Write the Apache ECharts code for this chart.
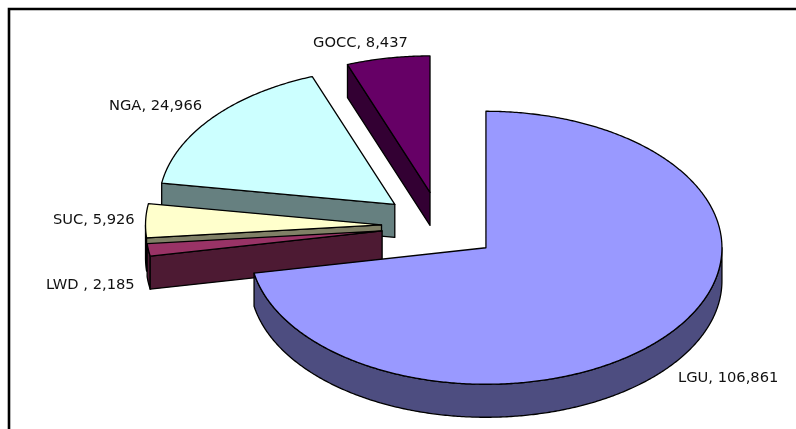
<!DOCTYPE html>
<html>
<head>
<meta charset="utf-8">
<style>html,body{margin:0;padding:0;background:#fff}#c{width:796px;height:429px}</style>
<script src="https://cdn.jsdelivr.net/npm/echarts@6/dist/echarts.min.js"></script>
</head>
<body>
<div id="c"></div>
<script>
var categories = ['LGU', 'LWD ', 'SUC', 'NGA', 'GOCC'];
var values = [106861, 2185, 5926, 24966, 8437];
var topColors = ['#9999FF', '#993366', '#FFFFCC', '#CCFFFF', '#660066'];
var sideColors = ['#4D4D80', '#4D1A33', '#808066', '#668080', '#330033'];
var labelAnchors = [[678, 378], [46, 285.5], [53, 220.5], [109, 106.5], [313, 43]];

var PIE = { cx: 440.5, cy: 226, rx: 236, ry: 136.5, depth: 33, explode: 0.25 };
var total = values.reduce(function (a, b) { return a + b; }, 0);
var starts = [];
values.reduce(function (acc, v, i) { starts[i] = acc; return acc + v; }, 0);

function pt(c, deg, dy) {
  var t = deg * Math.PI / 180;
  return [c[0] + PIE.rx * Math.sin(t), c[1] - PIE.ry * Math.cos(t) + (dy || 0)];
}
function arcPts(c, a0, a1, dy) {
  var out = [], n = Math.max(2, Math.ceil(Math.abs(a1 - a0) * 2));
  for (var i = 0; i <= n; i++) out.push(pt(c, a0 + (a1 - a0) * i / n, dy));
  return out;
}
function face(points, fill) {
  return { type: 'polygon', shape: { points: points },
    style: { fill: fill, stroke: '#000', lineWidth: 1.3, lineJoin: 'round' } };
}
function renderItem(params, api) {
  var i = api.value(0), v = api.value(1), s = api.value(2);
  var a0 = s / total * 360, a1 = (s + v) / total * 360, mid = (a0 + a1) / 2;
  var t = mid * Math.PI / 180;
  var c = [PIE.cx + PIE.explode * PIE.rx * Math.sin(t), PIE.cy - PIE.explode * PIE.ry * Math.cos(t)];
  var d = PIE.depth, kids = [], side = sideColors[i];
  // outer wall: only the part of the rim facing the viewer (90..270 deg)
  var w0 = Math.max(a0, 90), w1 = Math.min(a1, 270);
  if (w1 > w0) kids.push(face(arcPts(c, w0, w1, 0).concat(arcPts(c, w1, w0, d)), side));
  // radial cut faces that look towards the viewer
  if (Math.sin(a0 * Math.PI / 180) < -1e-6) {
    var p = pt(c, a0);
    kids.push(face([c, p, [p[0], p[1] + d], [c[0], c[1] + d]], side));
  }
  if (Math.sin(a1 * Math.PI / 180) > 1e-6) {
    var q = pt(c, a1);
    kids.push(face([c, q, [q[0], q[1] + d], [c[0], c[1] + d]], side));
  }
  kids.push(face([c].concat(arcPts(c, a0, a1, 0)), topColors[i]));
  var la = labelAnchors[i];
  kids.push({ type: 'text', x: la[0], y: la[1], style: {
    text: categories[i] + ', ' + v.toLocaleString('en-US'),
    fill: '#111', font: '14.7px "DejaVu Sans"', textAlign: 'left', textVerticalAlign: 'middle' } });
  return { type: 'group', children: kids };
}
// paint back to front: last slice first
var rows = values.map(function (v, i) { return [i, v, starts[i]]; }).reverse();

var chart = echarts.init(document.getElementById('c'), null, { renderer: 'canvas' });
chart.setOption({
  animation: false,
  backgroundColor: '#fff',
  graphic: [{ type: 'rect', z: 0, silent: true,
    shape: { x: 9, y: 9, width: 900, height: 900 },
    style: { fill: 'none', stroke: '#000', lineWidth: 2.6 } }],
  series: [{ type: 'custom', coordinateSystem: 'none', renderItem: renderItem, data: rows, silent: true }]
});
</script>
</body>
</html>
